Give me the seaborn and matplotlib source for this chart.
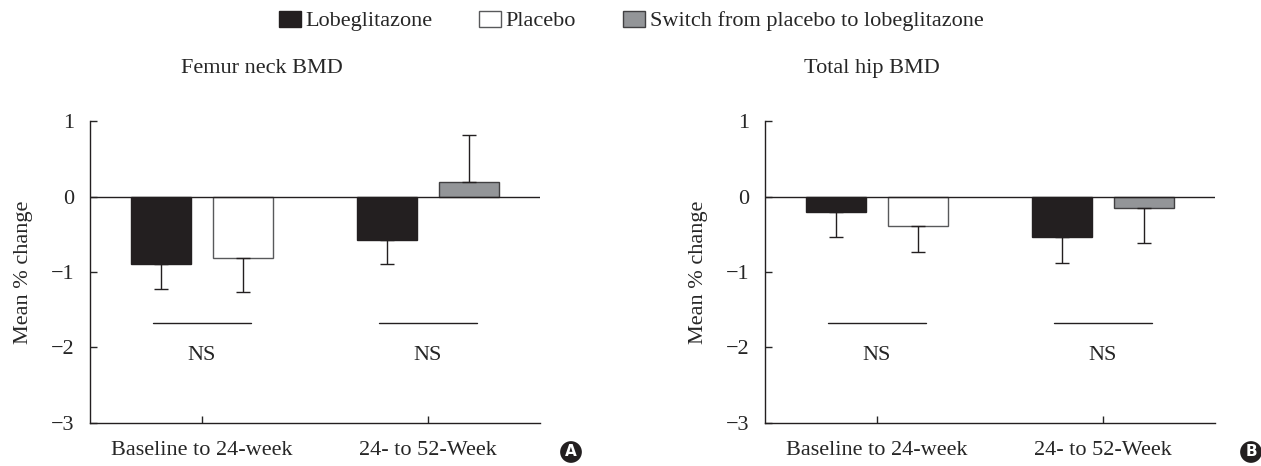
import numpy as np
import pandas as pd
import matplotlib
matplotlib.use("Agg")
import matplotlib.pyplot as plt
import matplotlib.patches as mpatches
import seaborn as sns

# data
groups = ["Baseline to 24-week", "24- to 52-Week"]
slots = ["left", "right", "left", "right"]
group_of_bar = [groups[0], groups[0], groups[1], groups[1]]
arms = ["Lobeglitazone", "Placebo", "Lobeglitazone", "Switch from placebo to lobeglitazone"]

femur_mean = [-0.90, -0.82, -0.57, 0.19]
femur_se = [0.32, 0.44, 0.33, 0.63]
hip_mean = [-0.21, -0.39, -0.53, -0.15]
hip_se = [0.32, 0.34, 0.35, 0.46]

ns_level = -1.67

arm_face = {"Lobeglitazone": "#231f20", "Placebo": "#ffffff",
            "Switch from placebo to lobeglitazone": "#939598"}
arm_edge = {"Lobeglitazone": "#231f20", "Placebo": "#58595b",
            "Switch from placebo to lobeglitazone": "#414042"}

sns.set_style("white")
plt.rcParams["font.family"] = ["Liberation Serif", "DejaVu Serif"]
plt.rcParams["axes.unicode_minus"] = True

FS = 16

fig = plt.figure(figsize=(12.61, 4.66), dpi=100)
axA = fig.add_axes([90 / 1261, 0.0923, 450 / 1261, 0.648])
axB = fig.add_axes([765 / 1261, 0.0923, 450 / 1261, 0.648])


def panel(ax, mean, se, title, title_x, letter, letter_x):
    df = pd.DataFrame({"group": group_of_bar, "slot": slots, "arm": arms,
                       "mean": mean, "se": se})
    sns.barplot(data=df, x="group", y="mean", hue="slot", order=groups,
                hue_order=["left", "right"], width=0.72, gap=0.26,
                errorbar=None, legend=False, ax=ax, linewidth=1.0)
    bars = []
    for cont in ax.containers:
        bars.extend(list(cont))
    # bars come per hue level: left g1, left g2, right g1, right g2
    order = [0, 2, 1, 3]
    for i, bi in enumerate(order):
        b = bars[bi]
        b.set_facecolor(arm_face[df.arm[i]])
        b.set_edgecolor(arm_edge[df.arm[i]])
        xc = b.get_x() + b.get_width() / 2
        m, s = df["mean"][i], df["se"][i]
        yerr = [[s], [0]] if m < 0 else [[0], [s]]
        ax.errorbar(xc, m, yerr=yerr, fmt="none", ecolor="#231f20",
                    elinewidth=1.0, capsize=5, capthick=1.0, zorder=1)
    ax.axhline(0, color="#231f20", lw=1.0, zorder=3)
    for gi in range(2):
        ax.plot([gi - 0.215, gi + 0.215], [ns_level, ns_level], color="#231f20", lw=1.0)
        ax.text(gi, -2.1, "NS", ha="center", va="center", fontsize=FS)
    ax.set_ylim(-3, 1)
    ax.set_xlim(-0.496, 1.496)
    ax.set_yticks([1, 0, -1, -2, -3])
    ax.set_xlabel("")
    ax.set_ylabel("Mean % change", fontsize=FS)
    ax.yaxis.set_label_coords(-0.127, 0.5)
    for sp in ["top", "right"]:
        ax.spines[sp].set_visible(False)
    for sp in ["left", "bottom"]:
        ax.spines[sp].set_color("#231f20")
        ax.spines[sp].set_linewidth(1.0)
    ax.tick_params(axis="y", direction="in", length=5, width=1.0, pad=11.5, labelsize=FS, left=True)
    ax.tick_params(axis="x", direction="in", length=5, width=1.0, pad=13, labelsize=FS, bottom=True)
    fig.text(title_x, 1 - 68 / 466, title, ha="center", va="center", fontsize=FS)
    fig.text(letter_x, 1 - 452 / 466, letter, ha="center", va="center", color="white",
             fontsize=11, fontweight="bold", family="DejaVu Sans",
             bbox=dict(boxstyle="circle,pad=0.22", fc="#231f20", ec="none"))


panel(axA, femur_mean, femur_se, "Femur neck BMD", 262 / 1261, "A", 571 / 1261)
panel(axB, hip_mean, hip_se, "Total hip BMD", 872 / 1261, "B", 1251 / 1261)

handles = [mpatches.Patch(facecolor=arm_face[a], edgecolor=arm_edge[a], linewidth=1.0, label=a)
           for a in ["Lobeglitazone", "Placebo", "Switch from placebo to lobeglitazone"]]
fig.legend(handles=handles, loc="center", bbox_to_anchor=(631 / 1261, 1 - 21 / 466), ncol=3,
           frameon=False, fontsize=FS, handlelength=1.0, handleheight=0.75,
           handletextpad=0.2, columnspacing=2.1, borderpad=0.2)

fig.savefig("out.png", dpi=100)
